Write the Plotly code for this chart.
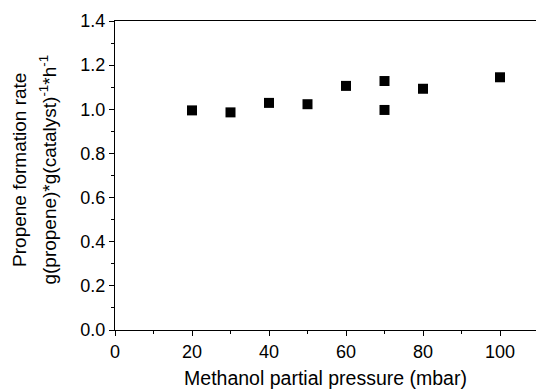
import plotly.graph_objects as go

pressure = [20, 30, 40, 50, 60, 70, 70, 80, 100]
rate = [0.995, 0.986, 1.029, 1.023, 1.106, 1.128, 0.997, 1.093, 1.145]

fam = "Liberation Sans, Arial, sans-serif"
tickfont = dict(family=fam, size=18, color="black")
titlefont = dict(family=fam, size=19.5, color="black")
ytitlefont = dict(family=fam, size=19, color="black")

fig = go.Figure()
fig.add_trace(go.Scatter(
    x=pressure, y=rate, mode="markers",
    marker=dict(symbol="square", size=10, color="black", line=dict(width=0)),
    cliponaxis=False, showlegend=False,
))

fig.update_layout(
    width=536, height=391,
    margin=dict(l=115, r=0, t=21, b=61),
    plot_bgcolor="white", paper_bgcolor="white",
    font=tickfont,
    xaxis=dict(
        range=[0, 109.35], tickvals=[0, 20, 40, 60, 80, 100],
        showline=True, linecolor="black", linewidth=1, mirror=True,
        ticks="outside", ticklen=5, tickwidth=1, tickcolor="black",
        minor=dict(dtick=10, tick0=0, ticks="outside", ticklen=3, tickcolor="black"),
        showgrid=False, zeroline=False,
        title=dict(text="Methanol partial pressure (mbar)", standoff=10, font=titlefont),
        tickfont=tickfont,
    ),
    yaxis=dict(
        range=[0, 1.4], tickvals=[0, 0.2, 0.4, 0.6, 0.8, 1.0, 1.2, 1.4],
        tickformat=".1f",
        showline=True, linecolor="black", linewidth=1, mirror=False,
        ticks="outside", ticklen=5, tickwidth=1, tickcolor="black",
        minor=dict(dtick=0.1, tick0=0, ticks="outside", ticklen=3, tickcolor="black"),
        showgrid=False, zeroline=False,
        tickfont=tickfont,
    ),
    annotations=[
        dict(text="Propene formation rate", xref="paper", yref="paper",
             x=-0.2257, y=0.518, textangle=-90, showarrow=False, font=ytitlefont,
             xanchor="center", yanchor="middle"),
        dict(text="g(propene)*g(catalyst)<sup>-1</sup>*h<sup>-1</sup>", xref="paper", yref="paper",
             x=-0.16, y=0.518, textangle=-90, showarrow=False, font=ytitlefont,
             xanchor="center", yanchor="middle"),
    ],
)

fig.write_html("out.html")
